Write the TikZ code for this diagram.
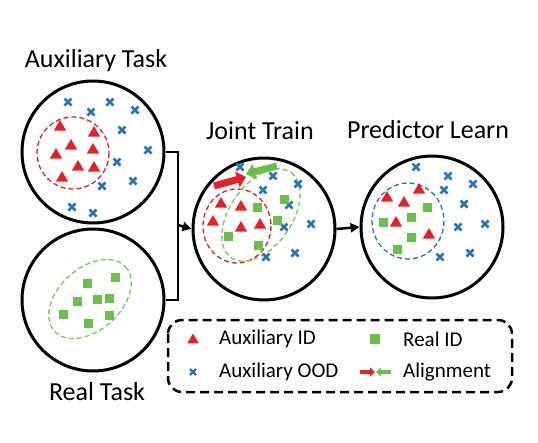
\documentclass[tikz,border=0pt]{standalone}
\usepackage{fontspec}
\setmainfont{Carlito}
\usetikzlibrary{arrows.meta,shapes.geometric}
\definecolor{myred}{RGB}{234,30,38}
\definecolor{mygreen}{RGB}{106,192,72}
\definecolor{lgreen}{RGB}{120,200,90}
\definecolor{myblue}{RGB}{38,117,185}
\begin{document}
\begin{tikzpicture}[x=1pt,y=-1pt,
  bigc/.style={circle,draw,line width=3pt,minimum size=142pt,inner sep=0pt},
  tri/.style={regular polygon,regular polygon sides=3,fill=myred,minimum size=14pt,inner sep=0pt},
  sq/.style={fill=mygreen,minimum size=9pt,inner sep=0pt},
  oodline/.style={myblue,line width=2.6pt},
  title/.style={font=\fontsize{26}{30}\selectfont},
  leg/.style={font=\fontsize{21}{24}\selectfont,anchor=west,inner sep=0pt},
  dsh/.style={line width=1.3pt,dash pattern=on 5pt off 3pt},
  conn/.style={line width=2.5pt},
  bigarrow/.style={line width=7pt,-{Triangle[length=9pt,width=16pt]}}]
\useasboundingbox (0,0) rectangle (538,442);
\newcommand\oodmark[2]{\draw[oodline] (#1,#2) +(-3.5,-3.5) -- +(3.5,3.5) (#1,#2) +(-3.5,3.5) -- +(3.5,-3.5);}

% titles
\node[title] (taux) at (96,61) {Auxiliary Task};
\node[title] (treal) at (97,392) {Real Task};
\node[title] (tjoint) at (260,131) {Joint Train};
\node[title] (tpred) at (428,130) {Predictor Learn};

% circles
\node[bigc] (aux) at (93,152) {};
\node[bigc] (real) at (93,300) {};
\node[bigc] (joint) at (264,229) {};
\node[bigc] (pred) at (432,227) {};

% bracket and arrows
\coordinate (bx) at (178,225);
\draw[conn] (aux.east) -| (178,152) -- (178,300) -- (real.east);
\draw[conn,-{Triangle[length=9pt,width=9pt]}] (bx) -- (joint.west);
\draw[conn,-{Triangle[length=9pt,width=9pt]}] (joint.east) -- (pred.west);

% ---- Auxiliary task
\draw[myred,dsh] (73,153) circle[radius=36];
\foreach \x/\y in {68/102,110/102,135/110,91/112,122/130,148/150,117/162,133/181,102/186,72/207,93/213}
  {\oodmark{\x}{\y}}
\foreach \x/\y in {60/127,94/133,71/146,93/150,56/155,78/167,94/168,62/178}
  {\node[tri] at (\x,\y) {};}

% ---- Real task
\draw[lgreen,dsh,rotate around={42:(90,299)}] (90,299) ellipse[x radius=48,y radius=31];
\foreach \x/\y in {87/283,115/277,77/301,97/299,109/298,63/314,109/315,88/323}
  {\node[sq] at (\x,\y) {};}

% ---- Joint train
\draw[myred,dsh] (237,226) ellipse[x radius=34,y radius=37];
\draw[lgreen,dsh,rotate around={55:(261,215)}] (261,215) ellipse[x radius=52,y radius=31];
\foreach \x/\y in {240/167,273/176,298/184,263/190,289/205,311/224,284/227,295/253,266/257}
  {\oodmark{\x}{\y}}
\foreach \x/\y in {221/204,241/207,213/222,241/228,260/225}
  {\node[tri] at (\x,\y) {};}
\foreach \x/\y in {284/199,257/207,277/220,228/236,258/245}
  {\node[sq] at (\x,\y) {};}
\coordinate (ra) at (214,186);
\coordinate (rb) at (246,177);
\coordinate (ga) at (277,166);
\coordinate (gb) at (246,174);
\draw[myred,bigarrow] (ra) -- (rb);
\draw[mygreen,bigarrow] (ga) -- (gb);

% ---- Predictor learn
\draw[myblue,dsh] (408,221) ellipse[x radius=36,y radius=38];
\foreach \x/\y in {416/167,448/176,473/184,444/190,464/204,485/224,458/227,470/253,440/257}
  {\oodmark{\x}{\y}}
\foreach \x/\y in {419/190,387/198,404/203,396/223,429/235}
  {\node[tri] at (\x,\y) {};}
\foreach \x/\y in {427/207,411/217,383/222,411/237,397/249}
  {\node[sq] at (\x,\y) {};}

% ---- Legend
\draw[line width=2.5pt,dash pattern=on 9pt off 5pt,rounded corners=14pt] (168,320) rectangle (512,392);
\node[tri,minimum size=13pt] (ltri) at (193,340) {};
\node[leg] (lauxid) at (219,339) {Auxiliary ID};
\node[sq,minimum size=10pt] (lsq) at (375,339) {};
\node[leg] (lrealid) at (403,339) {Real ID};
\draw[oodline,line width=2.2pt] (193,372) +(-3,-3) -- +(3,3) (193,372) +(-3,3) -- +(3,-3);
\node[leg] (lood) at (219,372) {Auxiliary OOD};
\coordinate (lra) at (360,372);
\coordinate (lrb) at (375,372);
\coordinate (lga) at (391,372);
\coordinate (lgb) at (376,372);
\draw[myred,line width=3.5pt,-{Triangle[length=5pt,width=9pt]}] (lra) -- (lrb);
\draw[mygreen,line width=3.5pt,-{Triangle[length=5pt,width=9pt]}] (lga) -- (lgb);
\node[leg] (lalign) at (403,372) {Alignment};
\end{tikzpicture}
\end{document}
